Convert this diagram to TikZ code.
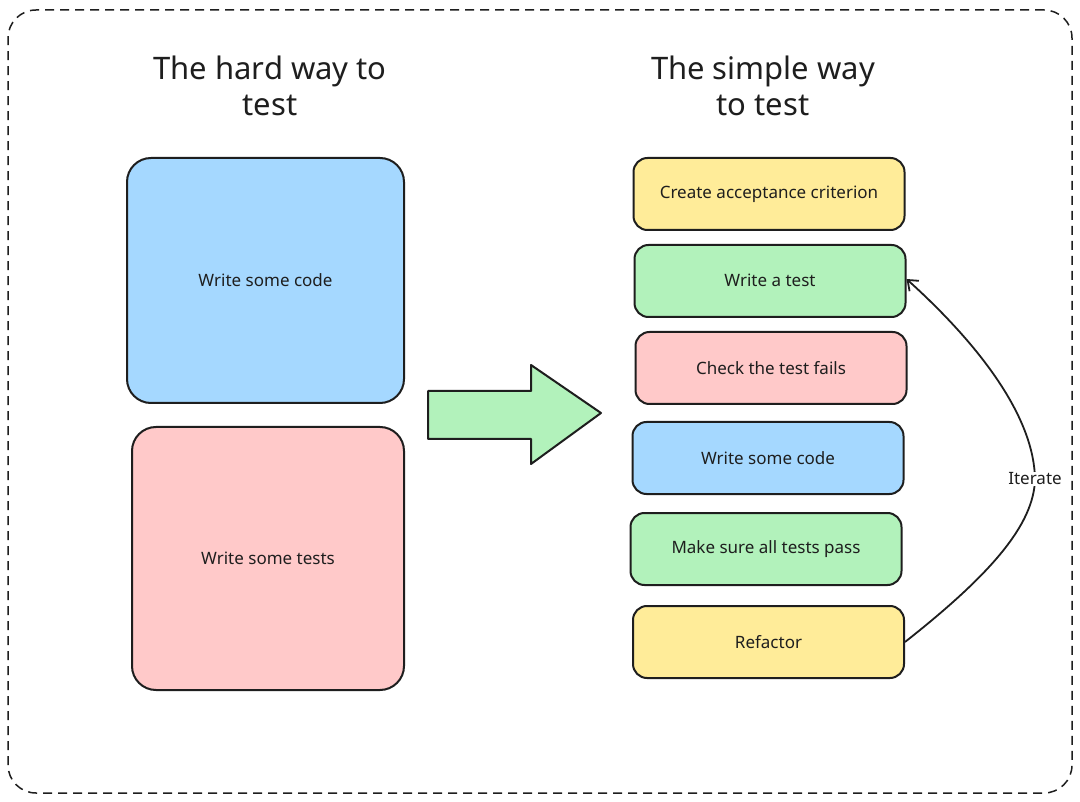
\documentclass[tikz,border=0pt]{standalone}
\usepackage{fontspec}
\setmainfont{Noto Sans}
\usetikzlibrary{arrows.meta}
\definecolor{ink}{HTML}{1E1E1E}
\definecolor{cblue}{HTML}{A5D8FF}
\definecolor{cpink}{HTML}{FFC9C9}
\definecolor{cgreen}{HTML}{B2F2BB}
\definecolor{cyellow}{HTML}{FFEC99}
\begin{document}
\begin{tikzpicture}[x=1pt,y=-1pt,
  frame/.style={draw=ink, line width=1.5pt, dash pattern=on 9pt off 6pt, rounded corners=28pt, inner sep=0pt},
  title/.style={text=ink, align=center, font=\fontsize{31}{36}\selectfont},
  bigbox/.style={draw=ink, line width=2pt, rounded corners=24pt, text=ink, font=\fontsize{17}{20}\selectfont, inner sep=0pt},
  stepbox/.style={draw=ink, line width=2pt, rounded corners=14pt, text=ink, font=\fontsize{17}{20}\selectfont, minimum width=271pt, minimum height=72pt, inner sep=0pt},
  lbl/.style={text=ink, fill=white, font=\fontsize{17}{20}\selectfont, inner sep=1pt}
]
\useasboundingbox (0,0) rectangle (1080,802);
\fill[white] (0,0) rectangle (1080,802);
\node[frame, minimum width=1064pt, minimum height=783pt] (frame) at (540,401.5) {};

\node[title] (t1) at (270,86) {The hard way to\\test};
\node[title] (t2) at (763,86) {The simple way\\to test};

\node[bigbox, fill=cblue, minimum width=277pt, minimum height=245pt] (code) at (265.5,280.5) {\raisebox{-2pt}{Write some code}};
\node[bigbox, fill=cpink, minimum width=272pt, minimum height=263pt] (tests) at (268,558.5) {\raisebox{-7pt}{Write some tests}};

\fill[cgreen] (428,391) -- (531,391) -- (531,365) -- (601,413) -- (531,464) -- (531,439) -- (428,439) -- cycle;
\draw[ink, line width=2pt, line join=round] (428,391) -- (531,391) -- (531,365) -- (601,413) -- (531,464) -- (531,439) -- (428,439) -- cycle;

\node[stepbox, fill=cyellow] (s1) at (769,194) {\raisebox{-2pt}{Create acceptance criterion}};
\node[stepbox, fill=cgreen] (s2) at (770,281) {\raisebox{1pt}{Write a test}};
\node[stepbox, fill=cpink] (s3) at (771,368) {Check the test fails};
\node[stepbox, fill=cblue] (s4) at (768,458) {Write some code};
\node[stepbox, fill=cgreen] (s5) at (766,549) {Make sure all tests pass};
\node[stepbox, fill=cyellow] (s6) at (768.5,642) {Refactor};

\coordinate (mid) at (1035,479);
\draw[ink, line width=1.8pt] (s6.east) .. controls (990,575) and (1034,525) .. (mid);
\draw[ink, line width=1.8pt, -{Straight Barb[length=9pt,width=14pt]}] (mid) .. controls (1034,420) and (985,350) .. ([yshift=2pt]s2.east);
\node[lbl] (it) at (mid) {Iterate};
\end{tikzpicture}
\end{document}
